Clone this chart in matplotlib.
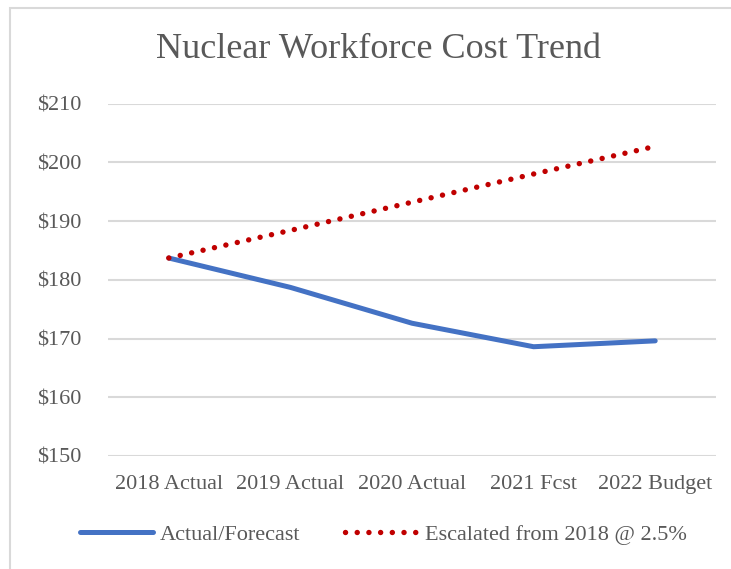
import matplotlib
matplotlib.use("Agg")
import matplotlib.pyplot as plt
from matplotlib.patches import Rectangle
from matplotlib.ticker import FuncFormatter

categories = ["2018 Actual", "2019 Actual", "2020 Actual", "2021 Fcst", "2022 Budget"]
actual_forecast = [183.7, 178.7, 172.6, 168.6, 169.6]
escalated = [183.7, 188.4, 193.2, 198.0, 202.7]
y_ticks = [150, 160, 170, 180, 190, 200, 210]

TEXT = "#595959"
GRID = "#D9D9D9"
FONT = ["Liberation Serif", "DejaVu Serif"]

plt.rcParams["font.family"] = FONT

fig = plt.figure(figsize=(7.31, 5.69), dpi=100)
W, H = 731, 569
# plot area in pixels: x 108..716, y 103.5..456
ax = fig.add_axes([108 / W, 1 - 456 / H, (716 - 108) / W, (456 - 103.5) / H])

x = list(range(len(categories)))
ax.plot(x, actual_forecast, color="#4472C4", lw=3.6, solid_capstyle="round",
        solid_joinstyle="round", label="Actual/Forecast", zorder=3)
ax.plot(x, escalated, color="#C00000", lw=3.9, linestyle=(0, (0.01, 2.15)),
        dash_capstyle="round", label="Escalated from 2018 @ 2.5%", zorder=4)

ax.set_xlim(-0.5, len(categories) - 0.5)
ax.set_ylim(150, 210)
ax.set_yticks(y_ticks)
ax.yaxis.set_major_formatter(FuncFormatter(lambda v, p: f"${v:.0f}"))
ax.set_xticks(x)
ax.set_xticklabels(categories)
ax.grid(axis="y", color=GRID, lw=1.5)
ax.set_axisbelow(True)
for s in ["top", "right", "left", "bottom"]:
    ax.spines[s].set_visible(False)
ax.tick_params(axis="both", length=0, labelsize=16, labelcolor=TEXT)
ax.tick_params(axis="y", pad=19)
ax.tick_params(axis="x", pad=14)

fig.text(378 / W, 1 - 50 / H, "Nuclear Workforce Cost Trend", ha="center", va="center",
         fontsize=26, color=TEXT)

leg = fig.legend(loc="center", bbox_to_anchor=(383 / W, 1 - 535 / H), ncol=2,
                 frameon=False, fontsize=16, handlelength=3.3, handletextpad=0.3,
                 columnspacing=2.0, labelcolor=TEXT)

fig.patches.append(Rectangle((10 / W, -0.1), 2, (1 - 8 / H) + 0.1, transform=fig.transFigure,
                             fill=False, edgecolor=GRID, lw=1.5, zorder=0))

fig.savefig("out.png", dpi=100, facecolor="white")
